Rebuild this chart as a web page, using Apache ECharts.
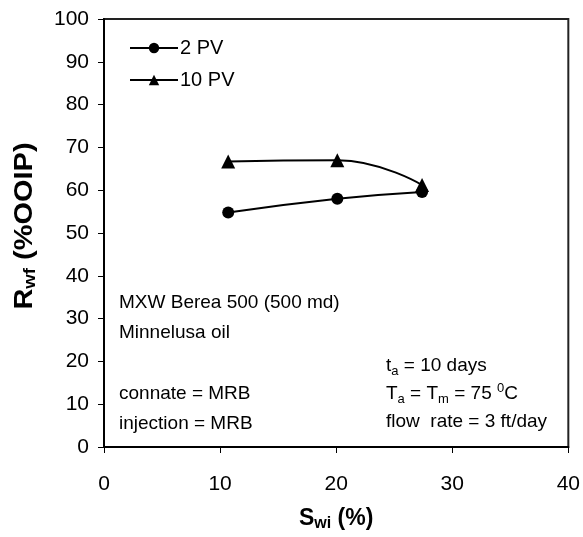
<!DOCTYPE html>
<html>
<head>
<meta charset="utf-8">
<script src="https://cdn.jsdelivr.net/npm/echarts@6/dist/echarts.min.js"></script>
<style>html,body{margin:0;padding:0;background:#fff}#c{width:583px;height:537px}</style>
</head>
<body>
<div id="c"></div>
<script>
var swi = [10.7, 20.1, 27.4];
var pv2 = [54.8, 58.0, 59.6];
var pv10 = [66.7, 67.0, 61.2];
var seriesNames = ['2 PV', '10 PV'];
var xTicks = [0, 10, 20, 30, 40];
var yTicks = [0, 10, 20, 30, 40, 50, 60, 70, 80, 90, 100];

var FONT = '"Liberation Sans", Arial, sans-serif';
function pairs(xs, ys){ return xs.map(function(x,i){ return [x, ys[i]]; }); }

var chart = echarts.init(document.getElementById('c'), null, {renderer:'canvas'});
var sub = {fontSize: 13, fontFamily: FONT, color:'#000', verticalAlign:'bottom', lineHeight: 12};
var sup = {fontSize: 13, fontFamily: FONT, color:'#000', verticalAlign:'top', lineHeight: 12};
var nrm = {fontSize: 19, fontFamily: FONT, color:'#000', lineHeight: 24};

function txt(x, y, text, rich){
  return {type:'text', x:x, y:y, silent:true,
    style:{text:text, fill:'#000', font:'19px ' + FONT, verticalAlign:'middle', align:'left', rich: rich}};
}

chart.setOption({
  animation:false,
  backgroundColor:'#fff',
  grid:{left:104, right:14, top:19, bottom:89, show:true, borderColor:'#222', borderWidth:2, containLabel:false},
  legend:{
    orient:'vertical', left:124, top:33, itemWidth:48, itemHeight:13, itemGap:12,
    textStyle:{fontSize:20, fontFamily:FONT, color:'#000', padding:[0,0,0,-3]},
    data:seriesNames
  },
  xAxis:{
    type:'value', min:0, max:40, interval:10,
    axisLine:{show:true, lineStyle:{color:'#000', width:2}},
    axisTick:{show:true, length:6, lineStyle:{color:'#000', width:1}},
    splitLine:{show:false},
    axisLabel:{fontSize:21, fontFamily:FONT, color:'#000', margin:27,
      formatter:function(v){ return xTicks.indexOf(v) >= 0 ? String(v) : ''; }},
    name:'{b|S}{s|wi}{b| (%)}', nameLocation:'middle', nameGap:59,
    nameTextStyle:{rich:{
      b:{fontSize:23, fontWeight:'bold', fontFamily:FONT, color:'#000', lineHeight:26},
      s:{fontSize:16, fontWeight:'bold', fontFamily:FONT, color:'#000', verticalAlign:'bottom', lineHeight:12}
    }}
  },
  yAxis:{
    type:'value', min:0, max:100, interval:10,
    axisLine:{show:true, lineStyle:{color:'#000', width:2}},
    axisTick:{show:true, length:6, lineStyle:{color:'#000', width:1}},
    splitLine:{show:false},
    axisLabel:{fontSize:21, fontFamily:FONT, color:'#000', margin:15,
      formatter:function(v){ return yTicks.indexOf(v) >= 0 ? String(v) : ''; }}
  },
  series:[
    {name:seriesNames[0], type:'line', data:pairs(swi, pv2), smooth:0.5,
     symbol:'circle', symbolSize:12, color:'#000',
     lineStyle:{color:'#000', width:2}, itemStyle:{color:'#000'}},
    {name:seriesNames[1], type:'line', data:pairs(swi, pv10), smooth:0.5,
     symbol:'triangle', symbolSize:14, color:'#000',
     lineStyle:{color:'#000', width:2}, itemStyle:{color:'#000'}}
  ],
  graphic:[
    {type:'text', x:25, y:226, rotation:Math.PI/2, scaleX:1.16, silent:true,
     style:{text:'{b|R}{s|wf}{b| (%OOIP)}', align:'center', verticalAlign:'middle',
       rich:{
         b:{fontSize:25, fontWeight:'bold', fontFamily:FONT, fill:'#000', lineHeight:28},
         s:{fontSize:16, fontWeight:'bold', fontFamily:FONT, fill:'#000', verticalAlign:'bottom', lineHeight:12}
       }}},
    txt(119, 303, 'MXW Berea 500 (500 md)'),
    txt(119, 333, 'Minnelusa oil'),
    txt(119, 394, 'connate = MRB'),
    txt(119, 424, 'injection = MRB'),
    txt(386, 366, '{n|t}{s|a}{n| = 10 days}', {n:nrm, s:sub}),
    txt(386, 394, '{n|T}{s|a}{n| = T}{s|m}{n| = 75 }{p|0}{n|C}', {n:nrm, s:sub, p:sup}),
    txt(386, 422, 'flow  rate = 3 ft/day')
  ]
});
</script>
</body>
</html>
